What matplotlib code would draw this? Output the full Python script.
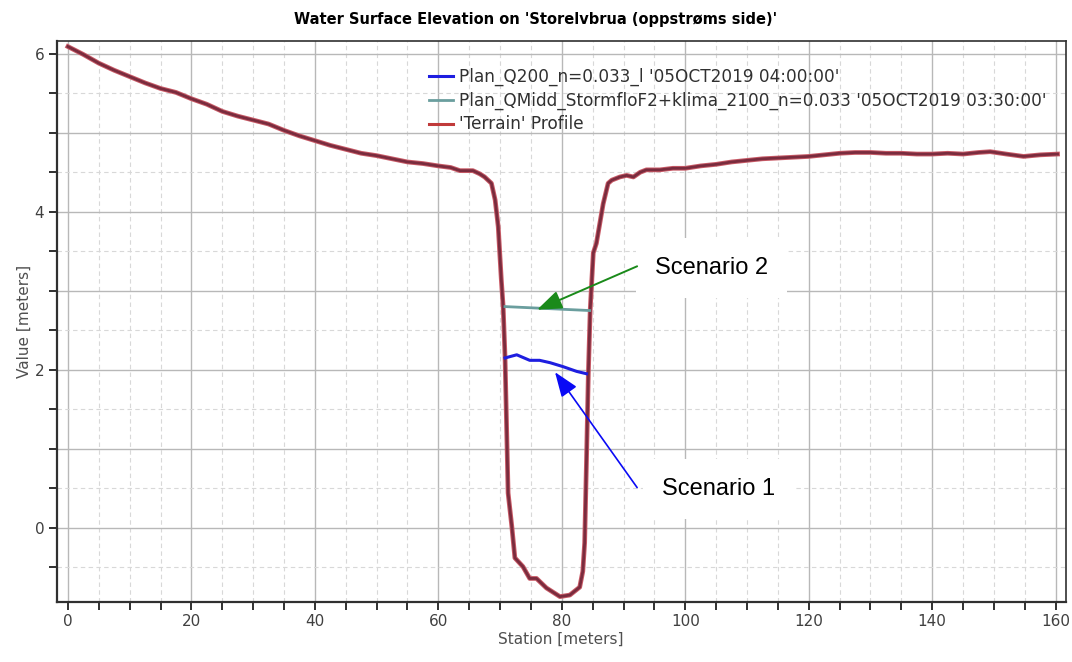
import matplotlib.pyplot as plt
from matplotlib.ticker import MultipleLocator, FuncFormatter

# terrain profile (station, elevation)
terrain_x = [0, 2.5, 5, 7.5, 10, 12.5, 15, 17.5, 20, 22.5, 25, 27.5, 30, 32.5, 35,
             37.5, 40, 42.5, 45, 47.5, 50, 52.5, 55, 57.5, 60, 62, 63.5, 65.6, 66.7,
             67.5, 68.6, 69.2, 69.7, 70.2, 70.5, 70.8, 71.3, 71.9, 72.4, 73.7, 74.8,
             75.9, 77.5, 79.7, 81.3, 82.9, 83.4, 83.7, 84.0, 84.3, 84.6, 85.1, 85.6,
             86.7, 87.5, 88.1, 89.4, 90.5, 91.6, 92.7, 93.7, 95.9, 98, 100, 102.5,
             105, 107.5, 110, 112.5, 115, 117.5, 120, 122.5, 125, 127.5, 130, 132.5,
             135, 137.5, 140, 142.5, 145, 147.5, 149.4, 152, 154.8, 157.5, 160.3]
terrain_y = [6.09, 5.99, 5.88, 5.79, 5.71, 5.63, 5.56, 5.51, 5.43, 5.36, 5.27, 5.21,
             5.16, 5.11, 5.03, 4.96, 4.90, 4.84, 4.79, 4.74, 4.71, 4.67, 4.63, 4.61,
             4.58, 4.56, 4.52, 4.52, 4.48, 4.44, 4.36, 4.15, 3.81, 3.14, 2.80, 2.17,
             0.44, 0.02, -0.38, -0.49, -0.64, -0.64, -0.76, -0.87, -0.85, -0.75,
             -0.55, -0.19, 0.86, 1.96, 2.76, 3.48, 3.60, 4.10, 4.36, 4.40, 4.44, 4.46,
             4.44, 4.50, 4.53, 4.53, 4.55, 4.55, 4.58, 4.60, 4.63, 4.65, 4.67, 4.68,
             4.69, 4.70, 4.72, 4.74, 4.75, 4.75, 4.74, 4.74, 4.73, 4.73, 4.74, 4.73,
             4.75, 4.76, 4.73, 4.70, 4.72, 4.73]

# water surface, scenario 1 (Q200)
q200_x = [70.8, 72.7, 74.8, 76.4, 78.1, 80.2, 82.4, 84.0]
q200_y = [2.15, 2.19, 2.12, 2.12, 2.09, 2.04, 1.98, 1.95]

# water surface, scenario 2 (QMidd + klima 2100)
qmidd_x = [70.8, 84.5]
qmidd_y = [2.80, 2.75]

labels = ["Plan_Q200_n=0.033_l '05OCT2019 04:00:00'",
          "Plan_QMidd_StormfloF2+klima_2100_n=0.033 '05OCT2019 03:30:00'",
          "'Terrain' Profile"]

fig = plt.figure(figsize=(10.72, 6.62), dpi=100)
ax = fig.add_axes([0.053, 0.091, 0.941, 0.847])

l1, = ax.plot(q200_x, q200_y, color='#1e1ee0', lw=2.2, zorder=4)
l2, = ax.plot(qmidd_x, qmidd_y, color='#6a9e9e', lw=2.0, zorder=4)
# terrain: light red edge under a dark maroon core
ax.plot(terrain_x, terrain_y, color='#c85a66', lw=3.4, zorder=3)
ax.plot(terrain_x, terrain_y, color='#7a2c3e', lw=2.0, zorder=3)
l3, = ax.plot([], [], color='#c03a3a', lw=2.2)

ax.set_xlim(-1.8, 161.6)
ax.set_ylim(-0.935, 6.16)

ax.xaxis.set_major_locator(MultipleLocator(20))
ax.xaxis.set_minor_locator(MultipleLocator(5))
ax.yaxis.set_major_locator(MultipleLocator(1))
ax.yaxis.set_minor_locator(MultipleLocator(0.5))
ax.yaxis.set_major_formatter(FuncFormatter(lambda v, p: '%d' % v if round(v) % 2 == 0 else ''))

ax.grid(which='major', color='#b8b8b8', lw=1.0)
ax.grid(which='minor', color='#d8d8d8', lw=0.8, linestyle=(0, (4, 3)))
ax.xaxis.grid(True, which='minor')
ax.yaxis.grid(True, which='minor')
ax.set_axisbelow(True)

ax.tick_params(which='both', direction='out', color='#202020', width=1.3,
               labelcolor='#404040', labelsize=11, length=5.5)
for s in ax.spines.values():
    s.set_color('#303030')
    s.set_linewidth(1.2)
ax.spines['left'].set_linewidth(1.6)
ax.spines['bottom'].set_linewidth(1.6)

ax.set_xlabel('Station [meters]', color='#505050', fontsize=11, labelpad=2)
ax.set_ylabel('Value [meters]', color='#505050', fontsize=11, labelpad=2)
fig.suptitle("Water Surface Elevation on 'Storelvbrua (oppstrøms side)'",
             x=0.5, y=0.971, va='center', fontsize=10.5, fontweight='bold')

ax.legend([l1, l2, l3], labels, loc='upper left', bbox_to_anchor=(0.354, 0.979),
          frameon=False, fontsize=12.2, handlelength=1.4, handletextpad=0.35,
          labelspacing=0.32, labelcolor='#303030')

# callout boxes and arrows
box = dict(boxstyle='square,pad=0.8', fc='white', ec='none')
ax.text(95.1, 3.29, 'Scenario 2', fontsize=17, family='Liberation Sans',
        va='center', bbox=box, zorder=5)
ax.text(96.2, 0.49, 'Scenario 1', fontsize=17, family='Liberation Sans',
        va='center', bbox=box, zorder=5)
ax.annotate('', xy=(76.0, 2.76), xytext=(92.2, 3.31),
            arrowprops=dict(arrowstyle='-|>,head_length=0.8,head_width=0.3',
                            color='#1a8a1a', lw=1.4, shrinkA=0, shrinkB=0,
                            mutation_scale=19), zorder=6)
ax.annotate('', xy=(78.9, 1.97), xytext=(92.2, 0.51),
            arrowprops=dict(arrowstyle='-|>,head_length=0.8,head_width=0.3',
                            color='#0a0af5', lw=1.2, shrinkA=0, shrinkB=0,
                            mutation_scale=19), zorder=6)

fig.savefig('out.png', dpi=100)
